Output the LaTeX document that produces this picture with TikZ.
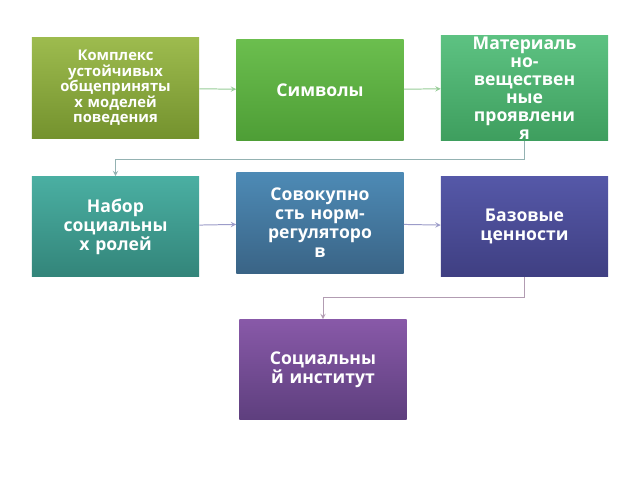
\documentclass[tikz,border=0pt]{standalone}
\usepackage{fontspec}
\setmainfont{Open Sans}
\usetikzlibrary{positioning}
\definecolor{oliveT}{HTML}{9DBB4E}\definecolor{oliveB}{HTML}{74922E}
\definecolor{greenT}{HTML}{6BBE4E}\definecolor{greenB}{HTML}{4E9E36}
\definecolor{mintT}{HTML}{5DC282}\definecolor{mintB}{HTML}{3E9E5E}
\definecolor{tealT}{HTML}{4AAFA2}\definecolor{tealB}{HTML}{33857A}
\definecolor{steelT}{HTML}{4D8AB5}\definecolor{steelB}{HTML}{3A6486}
\definecolor{indT}{HTML}{5558A8}\definecolor{indB}{HTML}{3F3F82}
\definecolor{purT}{HTML}{8859A8}\definecolor{purB}{HTML}{5E3F7E}
\tikzset{
  box/.style={minimum width=4.175cm, minimum height=2.5cm, inner sep=1pt,
    text=white, font=\bfseries\fontsize{12.5}{13.5}\selectfont, align=center,
    text width=4.1cm},
  link/.style={draw=#1, line width=0.7pt, ->, >=stealth},
}
\begin{document}
\begin{tikzpicture}[x=0.025cm,y=-0.025cm]
  \useasboundingbox[fill=white] (0,0) rectangle (640,480);
  \node[box, top color=oliveT, bottom color=oliveB, font=\bfseries\fontsize{10.5}{11}\selectfont] (compl) at (115.5,88)
    {Комплекс\\устойчивых\\общеприняты\\х моделей\\поведения};
  \node[box, top color=greenT, bottom color=greenB] (symb) at (320,90) {Символы};
  \node[box, top color=mintT, bottom color=mintB, font=\bfseries\fontsize{12.5}{12.8}\selectfont] (mater) at (524.5,88)
    {Материаль\\но-\\веществен\\ные\\проявлени\\я};
  \node[box, top color=tealT, bottom color=tealB] (roles) at (115.5,226.5)
    {Набор\\социальны\\х ролей};
  \node[box, top color=steelT, bottom color=steelB] (norms) at (320,223)
    {Совокупно\\сть норм-\\регуляторо\\в};
  \node[box, top color=indT, bottom color=indB] (values) at (524.5,226.5)
    {Базовые\\ценности};
  \node[box, top color=purT, bottom color=purB] (inst) at (323,369.5)
    {Социальны\\й институт};

  \draw[link=green!35!gray!60] (compl) -- (symb);
  \draw[link=green!35!gray!60] (symb) -- (mater);
  \draw[link=teal!40!gray!60] (mater.south) -- ++(0,19) -| (roles.north);
  \draw[link=blue!30!gray!60] (roles) -- (norms);
  \draw[link=blue!30!gray!60] (norms) -- (values);
  \draw[link=violet!30!gray!60] (values.south) -- ++(0,21) -| (inst.north);
\end{tikzpicture}
\end{document}
